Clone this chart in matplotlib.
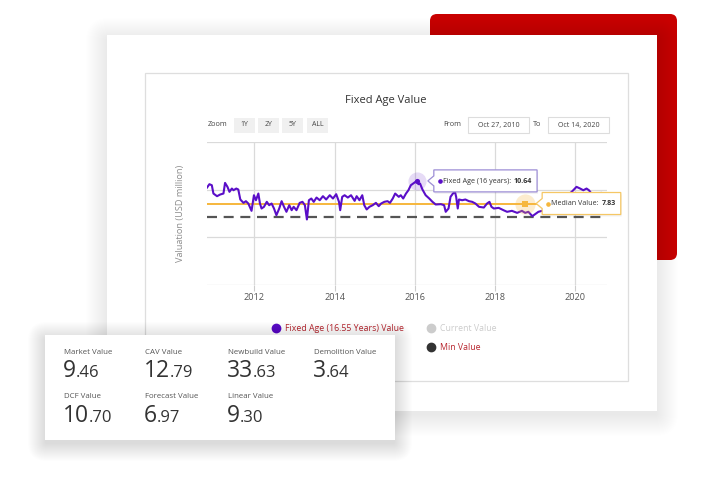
import matplotlib
matplotlib.use('Agg')
import matplotlib.pyplot as plt
from matplotlib.patches import FancyBboxPatch, Rectangle, Polygon
import numpy as np

plt.rcParams['font.family'] = ['Open Sans', 'DejaVu Sans']

W, H = 702, 496

# Fixed Age value history (decimal year, USD million)
years = [2010.82, 2010.88, 2010.94, 2010.98, 2011.07, 2011.15, 2011.23, 2011.27, 2011.33, 2011.38,
         2011.44, 2011.48, 2011.55, 2011.60, 2011.65, 2011.73, 2011.79, 2011.85, 2011.93, 2011.99,
         2012.04, 2012.10, 2012.14, 2012.18, 2012.24, 2012.31, 2012.37, 2012.43, 2012.49, 2012.55,
         2012.62, 2012.68, 2012.74, 2012.80, 2012.87, 2012.93, 2012.98, 2013.05, 2013.13, 2013.20,
         2013.26, 2013.31, 2013.36, 2013.42, 2013.48, 2013.55, 2013.63, 2013.71, 2013.79, 2013.88,
         2013.96, 2014.04, 2014.11, 2014.14, 2014.19, 2014.25, 2014.33, 2014.41, 2014.50, 2014.55,
         2014.62, 2014.69, 2014.74, 2014.80, 2014.87, 2014.95, 2015.03, 2015.10, 2015.16, 2015.24,
         2015.32, 2015.38, 2015.45, 2015.51, 2015.60, 2015.65, 2015.71, 2015.78, 2015.84, 2015.90,
         2015.96, 2016.05, 2016.09, 2016.13, 2016.19, 2016.27, 2016.36, 2016.44, 2016.52, 2016.65,
         2016.73, 2016.77, 2016.84, 2016.89, 2016.95, 2017.00, 2017.03, 2017.07, 2017.10, 2017.18,
         2017.26, 2017.35, 2017.43, 2017.51, 2017.60, 2017.72, 2017.80, 2017.86, 2017.91, 2017.97,
         2018.09, 2018.21, 2018.30, 2018.42, 2018.55, 2018.67, 2018.75, 2018.83, 2018.93, 2019.00,
         2019.08, 2019.17, 2019.33, 2019.50, 2019.70, 2019.91, 2020.03, 2020.12, 2020.20, 2020.28,
         2020.34, 2020.39, 2020.53, 2020.64, 2020.74]
values = [9.81, 10.23, 10.10, 9.07, 8.74, 8.95, 9.07, 10.39, 9.90, 9.28,
          9.69, 9.48, 9.69, 9.57, 8.33, 7.91, 8.12, 7.83, 6.92, 8.86,
          8.24, 9.07, 7.83, 7.21, 7.42, 8.04, 7.62, 7.83, 7.21, 6.38,
          7.21, 8.12, 7.42, 6.80, 7.62, 7.00, 7.42, 7.00, 7.91, 8.04,
          7.62, 5.85, 8.24, 8.45, 8.04, 8.57, 8.24, 8.74, 8.33, 8.86,
          8.45, 8.99, 8.04, 7.00, 8.66, 8.86, 8.57, 8.86, 8.16, 8.74,
          8.24, 8.86, 7.62, 7.09, 7.42, 7.62, 7.91, 7.50, 7.83, 8.04,
          8.12, 7.91, 8.45, 9.07, 8.66, 8.86, 8.45, 9.07, 9.48, 10.10,
          10.31, 10.64, 10.23, 10.31, 9.57, 8.86, 8.45, 8.04, 7.71, 7.75,
          7.62, 6.80, 7.21, 8.66, 9.07, 9.28, 8.66, 7.21, 8.33, 8.24,
          8.33, 8.12, 8.04, 7.83, 7.42, 7.33, 7.83, 8.04, 7.42, 7.21,
          7.29, 7.00, 6.80, 6.92, 6.67, 6.92, 6.67, 6.80, 6.26, 6.51,
          6.80, 6.92, 7.00, 7.62, 8.45, 9.28, 9.90, 9.69, 9.48, 9.69,
          9.48, 9.15, 8.86, 9.15, 9.07]

median_value = 7.83
min_value = 6.18
peak_year, peak_value = 2016.05, 10.64
median_year = 2018.75

x_start, x_end = 2010.82, 2020.79
y_low, y_high = -2.29, 15.47
year_ticks = [2012, 2014, 2016, 2018, 2020]

zoom_buttons = ['1Y', '2Y', '5Y', 'ALL']
date_from, date_to = 'Oct 27, 2010', 'Oct 14, 2020'
legend_labels = ['Fixed Age (16.55 Years) Value', 'Current Value', 'Min Value']

stat_names = ['Market Value', 'CAV Value', 'Newbuild Value', 'Demolition Value',
              'DCF Value', 'Forecast Value', 'Linear Value']
stat_values = [9.46, 12.79, 33.63, 3.64, 10.70, 6.97, 9.30]

PURPLE = '#5a0ec8'
ORANGE = '#f6b73c'
LEGEND_RED = '#b8262f'


def soft_shadow(ax, x, y, w, h, spread=20, alpha=0.006, dy=4, z=1):
    for i in range(spread):
        ax.add_patch(FancyBboxPatch((x - i, y - i + dy), w + 2 * i, h + 2 * i,
                                    boxstyle='round,pad=0,rounding_size=%d' % (i + 2),
                                    fc='black', ec='none', alpha=alpha, zorder=z))


fig = plt.figure(figsize=(W / 100, H / 100), dpi=100)
fig.patch.set_facecolor('white')
renderer = fig.canvas.get_renderer()

bg = fig.add_axes([0, 0, 1, 1], zorder=0)
bg.set_xlim(0, W)
bg.set_ylim(H, 0)
bg.axis('off')

# red block behind the card
bg.add_patch(FancyBboxPatch((430, 14), 247, 246, boxstyle='round,pad=0,rounding_size=7',
                            fc='#c80000', ec='none', zorder=2))

# main white card
soft_shadow(bg, 107, 35, 550, 376, spread=22, alpha=0.005, z=3)
bg.add_patch(Rectangle((107, 35), 550, 376, fc='white', ec='none', zorder=4))
bg.add_patch(Rectangle((145, 73), 483, 308, fc='none', ec='#dedede', lw=0.9, zorder=5))

bg.text(386, 100, 'Fixed Age Value', ha='center', va='center', fontsize=8, color='#333333', zorder=6)

# range selector row
bg.text(208, 125, 'Zoom', ha='left', va='center', fontsize=5.2, color='#444444', zorder=6)
for lbl, bx in zip(zoom_buttons, [234, 258, 282, 307]):
    bg.add_patch(Rectangle((bx, 117.5), 21, 15, fc='#f0f0f0', ec='none', zorder=5))
    bg.text(bx + 10.5, 125, lbl, ha='center', va='center', fontsize=5, color='#444444', zorder=6)
bg.text(452, 125, 'From', ha='center', va='center', fontsize=5.2, color='#444444', zorder=6)
bg.text(537, 125, 'To', ha='center', va='center', fontsize=5.2, color='#444444', zorder=6)
for lbl, bx in [(date_from, 468), (date_to, 548)]:
    bg.add_patch(Rectangle((bx, 117), 61, 16, fc='white', ec='#dddddd', lw=0.8, zorder=5))
    bg.text(bx + 30.5, 125, lbl, ha='center', va='center', fontsize=5.1, color='#444444', zorder=6)

bg.text(181, 213, 'Valuation (USD million)', rotation=90, ha='center', va='center',
        fontsize=6.6, color='#8c8c8c', zorder=6)

# legend
bg.plot([276], [328], 'o', ms=6, color=PURPLE, zorder=6)
bg.text(285, 328.5, legend_labels[0], ha='left', va='center', fontsize=6.3, color=LEGEND_RED, zorder=6)
bg.plot([431], [328], 'o', ms=6, color='#cccccc', zorder=6)
bg.text(440, 328.5, legend_labels[1], ha='left', va='center', fontsize=6.3, color='#cccccc', zorder=6)
bg.plot([431], [347], 'o', ms=6, color='#333333', zorder=6)
bg.text(440, 347.5, legend_labels[2], ha='left', va='center', fontsize=6.3, color=LEGEND_RED, zorder=6)

# the chart itself
ax = fig.add_axes([207 / W, 1 - 285 / H, 400 / W, 143 / H], zorder=2)
ax.set_facecolor('none')
ax.plot(years, values, color=PURPLE, lw=1.5, zorder=4)
ax.axhline(median_value, color=ORANGE, lw=1.4, zorder=3)
ax.axhline(min_value, color='#555555', lw=1.6, dashes=(4.5, 3), zorder=3)

ax.scatter([peak_year], [peak_value], s=170, color=PURPLE, alpha=0.15, lw=0, zorder=5)
ax.scatter([peak_year], [peak_value], s=14, color=PURPLE, lw=0, zorder=6)
ax.scatter([median_year], [median_value], s=210, color=ORANGE, alpha=0.25, lw=0, zorder=5)
ax.scatter([median_year], [median_value], s=20, marker='s', color=ORANGE, lw=0, zorder=6)

ax.set_xlim(x_start, x_end)
ax.set_ylim(y_low, y_high)
ax.set_xticks(year_ticks)
ax.set_xticklabels([str(y) for y in year_ticks])
ax.set_yticks(np.linspace(y_low, y_high, 4))
ax.tick_params(axis='y', left=False, labelleft=False)
ax.tick_params(axis='x', length=4, color='#cccccc', labelsize=6.6, labelcolor='#555555', pad=2)
ax.grid(True, color='#dadada', lw=0.9, zorder=0)
for s in ax.spines.values():
    s.set_visible(False)

# tooltips, anchored on the data points
fg = fig.add_axes([0, 0, 1, 1], zorder=5)
fg.set_xlim(0, W)
fg.set_ylim(H, 0)
fg.axis('off')


def to_px(x, y):
    dx, dy = ax.transData.transform((x, y))
    return dx, H - dy


def tooltip(xv, yv, gap, label, number, color, edge):
    px, py = to_px(xv, yv)
    left = px + gap
    fg.plot([left + 6], [py], 'o', ms=2.3, color=color, zorder=3)
    t = fg.text(left + 9, py + 0.3, label + ' ', ha='left', va='center', fontsize=5.1,
                color='#333333', zorder=3)
    bb = t.get_window_extent(renderer)
    n = fg.text(bb.x1 + 1, py + 0.3, number, ha='left', va='center', fontsize=5.1,
                fontweight='bold', color='#333333', zorder=3)
    right = n.get_window_extent(renderer).x1 + 5
    top, bot = py - 11, py + 11
    pts = [(left, top), (right, top), (right, bot), (left, bot),
           (left, py + 5), (left - 6, py), (left, py - 5)]
    fg.add_patch(Polygon([(a + 1, b + 2) for a, b in pts], closed=True, fc='black',
                         ec='none', alpha=0.05, zorder=1))
    fg.add_patch(Polygon(pts, closed=True, fc='white', ec=edge, lw=0.9, zorder=2))


tooltip(peak_year, peak_value, 17, 'Fixed Age (16 years):', '%.2f' % peak_value, PURPLE, '#9d8ed6')
tooltip(median_year, median_value, 17, 'Median Value:', '%.2f' % median_value, ORANGE, '#f5c765')

# stats card
soft_shadow(fg, 45, 335, 350, 105, spread=18, alpha=0.006, z=4)
fg.add_patch(Rectangle((45, 335), 350, 105, fc='white', ec='none', zorder=5))
col_x = [64, 145, 228, 314]
for i, (name, val) in enumerate(zip(stat_names, stat_values)):
    cx = col_x[i % 4]
    row = i // 4
    fg.text(cx, 352 + row * 45, name, ha='left', va='center', fontsize=5.7, color='#555555', zorder=6)
    whole, frac = ('%.2f' % val).split('.')
    t = fg.text(cx - 1, 377 + row * 45, whole, ha='left', va='baseline', fontsize=16.5,
                color='#333333', zorder=6)
    bb = t.get_window_extent(renderer)
    fg.text(bb.x1, 377 + row * 45, '.' + frac, ha='left', va='baseline', fontsize=12,
            color='#333333', zorder=6)

fig.savefig('out.png', dpi=100)
